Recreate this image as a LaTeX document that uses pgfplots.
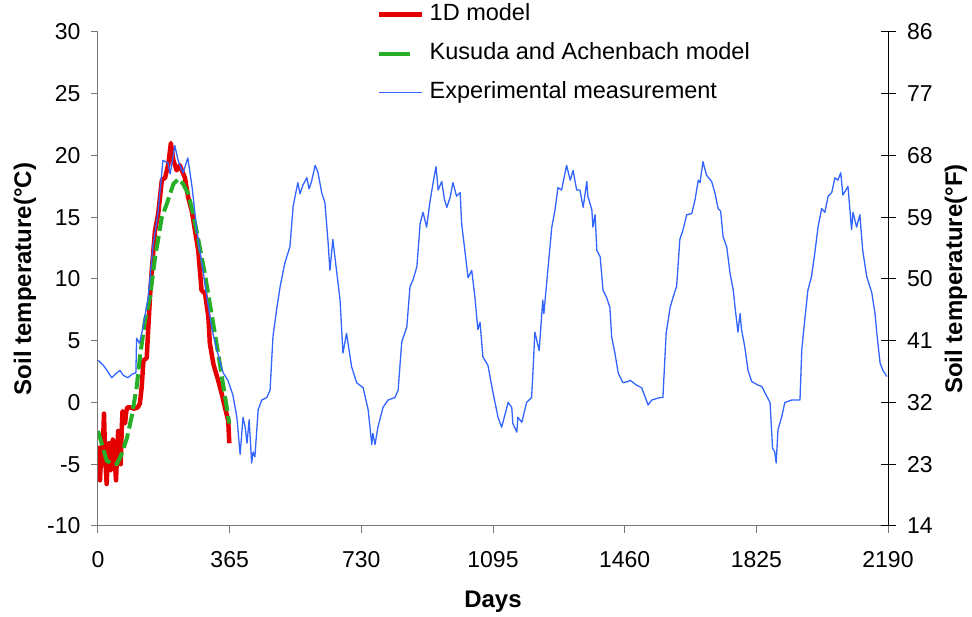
\documentclass[border=0pt]{standalone}
\usepackage{pgfplots}
\pgfplotsset{compat=1.18}
\usepackage{fontspec}
\setmainfont{Liberation Sans}
\definecolor{cred}{RGB}{228,0,0}
\definecolor{cgreen}{RGB}{40,175,40}
\definecolor{cblue}{RGB}{50,100,255}
\definecolor{axgray}{RGB}{120,120,120}
\pgfplotsset{
  longlegend/.style={legend image code/.code={\draw[##1] (0pt,0pt) -- (43pt,0pt);}},
  greenlegend/.style={legend image code/.code={\draw[##1,solid] (0pt,0pt) -- (31pt,0pt); \path (43pt,0pt);}},
}
\begin{document}
\begin{tikzpicture}
\useasboundingbox (-98pt,-91pt) rectangle (874pt,526pt);
\begin{axis}[
  scale only axis, width=790pt, height=494pt,
  at={(0pt,0pt)}, anchor=south west,
  font=\fontsize{23}{27}\selectfont,
  xmin=0, xmax=2190, ymin=-10, ymax=30,
  xtick={0,365,...,2190}, ytick={-10,-5,...,30},
  axis x line*=bottom, axis y line*=left,
  axis line style={axgray, line width=1pt},
  tick align=outside, major tick length=7pt,
  tick style={axgray, line width=1pt},
  xticklabel style={yshift=-15pt},
  yticklabel style={xshift=-7pt},
  /pgf/number format/assume math mode=true,
  /pgf/number format/1000 sep={},
  xlabel={\fontsize{24}{28}\selectfont\textbf{Days}},
  ylabel={\fontsize{24}{28}\selectfont\textbf{Soil temperature(°C)}},
  every axis x label/.style={at={(axis description cs:0.5,-0.1538)},anchor=center},
  every axis y label/.style={at={(axis description cs:-0.0924,0.5)},rotate=90,anchor=center},
  legend cell align=left,
  legend style={at={(axis description cs:0.3532,1.0577)}, anchor=north west,
    draw=none, fill=none, inner sep=0pt, row sep=17pt, column sep=5pt,
    nodes={inner sep=0pt, text height=17pt, text depth=5pt},
    font=\fontsize{23.5}{27}\selectfont},
  longlegend,
]
\addplot[cred, line width=4.5pt, line join=round] coordinates {
(0,-3.5) (3,-5.5) (5.5,-6.3) (9,-4) (12,-5) (16.6,-0.9) (20,-4.5) (24,-6.6) (28,-4) (31,-3.3)
(35,-5.5) (38,-5.0) (41,-3) (44,-3.7) (47,-5) (50,-6.3) (53,-4) (56,-2.3) (60,-3.5) (63,-5.0)
(66,-2) (68,-0.7) (72,-1.2) (75,-1.7) (78,-0.8) (81,-0.4) (89,-0.4) (100,-0.5) (110,-0.4)
(116,-0.1) (121,1.2) (126,3.4) (135,3.6) (139,5.8) (144,8.5) (149,10.7) (158,13.9) (167,15.3)
(177,18.0) (186,18.2) (195,19.3) (202,21.0) (209,19.6) (218,18.8) (227,19.2) (241,18.2)
(250,16.6) (260,15.5) (269,13.9) (278,12.3) (287,9.1) (297,8.8) (306,6.9) (310,4.8) (320,3.1)
(333,1.8) (343,0.7) (352,-0.4) (361,-1.5) (364,-3.3)
};
\addlegendentry{1D model}
\addplot[cgreen, line width=4pt, dash pattern=on 15pt off 5pt, greenlegend] coordinates {
(0,-2.3) (10,-3.3) (24,-4.7) (40,-5.0) (52,-5.0) (65,-4.2) (80,-2.9) (93,-1.2) (107,1.2)
(116,3.6) (130,6.6) (144,8.5) (158,11.7) (177,15.0) (191,16.1) (209,17.7) (223,18.1) (236,17.7)
(250,16.9) (262,15.5) (274,13.8) (286,12.0) (297,10.3) (310,8.0) (324,5.6) (338,3.1) (352,0.5) (364,-1.7)
};
\addlegendentry{Kusuda and Achenbach model}
\addplot[cblue, line width=1.3pt, line join=round] coordinates {
(1,3.4) (8,3.2) (15,3.0) (25,2.6) (38,2.0) (48,2.3) (61,2.6) (70,2.2) (83,2.0) (95,2.3) (105,2.4)
(107,5.2) (115,4.8) (125,6.1) (139,8.5) (152,12.6) (166,15.3) (180,19.6) (194,19.4) (200,18.5)
(213,20.8) (222,19.6) (236,18.6) (249,19.8) (261,17.4) (274,13.9) (288,11.3) (302,8.5) (316,5.9)
(330,4.2) (347,2.4) (360,1.8) (374,0.6) (385,-1.2) (394,-4.2) (402,-1.2) (408,-2.0) (413,-3.3)
(419,-1.4) (426,-4.9) (430,-4.0) (435,-4.4) (444,-0.6) (454,0.2) (468,0.4) (477,1.0) (485,5.3)
(495,7.5) (505,9.4) (518,11.3) (532,12.6) (541,15.9) (554,17.8) (560,16.9) (568,17.6) (579,18.2)
(585,17.3) (592,17.9) (602,19.2) (610,18.6) (620,17.0) (629,16.2) (638,12.9) (643,10.7) (651,13.2)
(662,10.5) (671,8.3) (679,4.0) (689,5.6) (703,2.9) (717,1.6) (735,1.2) (749,-0.6) (759,-3.4)
(762,-2.5) (768,-3.4) (776,-2.0) (790,-0.4) (804,0.2) (823,0.4) (832,1.0) (842,4.9) (856,6.1)
(865,9.4) (873,9.9) (884,11.0) (893,14.5) (901,15.4) (911,14.2) (920,16.2) (929,17.8) (937,19.1)
(943,17.2) (953,17.9) (960,16.5) (967,15.8) (976,16.6) (984,17.8) (994,16.7) (1004,17.0)
(1008,14.5) (1017,12.3) (1026,10.1) (1036,10.7) (1045,8.5) (1053,5.9) (1059,6.5) (1067,3.7)
(1081,3.0) (1095,0.8) (1109,-1.2) (1119,-2.0) (1128,-1.0) (1137,0.0) (1147,-0.4) (1150,-1.7)
(1161,-2.4) (1164,-1.2) (1175,-1.6) (1188,0.0) (1202,0.4) (1206,2.6) (1211,5.7) (1223,4.2)
(1233,8.3) (1236,7.2) (1247,10.7) (1258,14.2) (1267,15.6) (1275,17.4) (1285,17.2) (1299,19.2)
(1309,18.0) (1317,18.8) (1327,17.2) (1336,17.2) (1345,15.8) (1355,17.9) (1358,16.7) (1369,15.6)
(1372,14.2) (1378,15.2) (1383,12.3) (1392,11.8) (1400,9.1) (1410,8.5) (1419,7.7) (1424,5.3)
(1433,4.0) (1442,2.4) (1455,1.6) (1469,1.7) (1475,1.8) (1493,1.4) (1507,1.2) (1516,0.5)
(1525,-0.2) (1535,0.2) (1558,0.4) (1566,0.4) (1575,5.6) (1586,7.7) (1594,8.5) (1604,9.4)
(1613,13.2) (1622,14.0) (1632,15.2) (1646,15.3) (1655,16.4) (1664,18.0) (1669,17.8) (1677,19.5)
(1687,18.4) (1701,17.9) (1710,17.0) (1719,15.7) (1726,15.5) (1733,13.4) (1743,12.6) (1752,10.5)
(1761,9.1) (1766,7.7) (1774,5.7) (1780,7.2) (1784,5.9) (1793,4.5) (1802,2.6) (1812,1.7)
(1830,1.4) (1840,1.3) (1854,0.5) (1863,0.0) (1870,-3.7) (1876,-4.0) (1880,-4.9) (1885,-2.2)
(1895,-1.2) (1904,0.0) (1923,0.2) (1946,0.2) (1951,4.3) (1960,6.9) (1968,9.1) (1978,10.2)
(1988,12.3) (1996,14.2) (2006,15.7) (2015,15.4) (2024,16.7) (2034,17.0) (2043,18.2) (2051,18.0)
(2059,18.6) (2065,16.8) (2079,17.5) (2089,14.0) (2093,15.4) (2103,14.2) (2112,15.2) (2120,12.3)
(2131,10.2) (2145,8.9) (2154,7.2) (2159,5.6) (2168,3.2) (2176,2.6) (2187,2.1)
};
\addlegendentry{Experimental measurement}
\end{axis}
\begin{axis}[
  scale only axis, width=790pt, height=494pt,
  at={(0pt,0pt)}, anchor=south west,
  font=\fontsize{23}{27}\selectfont,
  xmin=0, xmax=2190, ymin=14, ymax=86,
  ytick={14,23,...,86},
  axis x line=none, axis y line*=right,
  axis line style={black, line width=1pt},
  tick align=center, major tick length=15pt,
  tick style={black, line width=1pt},
  yticklabel style={xshift=8pt},
  /pgf/number format/assume math mode=true,
  ylabel={\fontsize{24}{28}\selectfont\textbf{Soil temperature(°F)}},
  every axis y label/.style={at={(axis description cs:1.0861,0.5)},rotate=90,anchor=center},
]
\end{axis}
\end{tikzpicture}
\end{document}
